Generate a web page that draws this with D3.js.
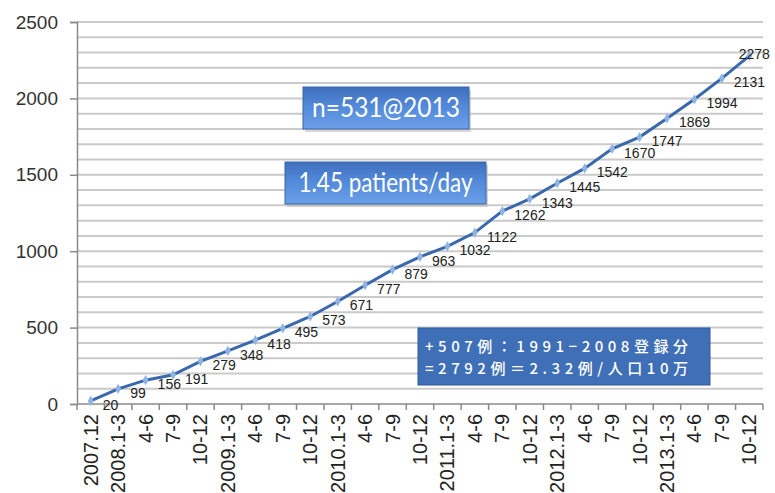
<!DOCTYPE html>
<html>
<head>
<meta charset="utf-8">
<script src="https://cdn.jsdelivr.net/npm/d3@7"></script>
<style>
  body { margin: 0; background: #fff; }
  svg { display: block; }
</style>
</head>
<body>
<svg width="775" height="493"></svg>
<script>
// quarters, cumulative registered cases
const categories = ['2007.12', '2008.1-3', '4-6', '7-9', '10-12', '2009.1-3', '4-6', '7-9', '10-12',
  '2010.1-3', '4-6', '7-9', '10-12', '2011.1-3', '4-6', '7-9', '10-12',
  '2012.1-3', '4-6', '7-9', '10-12', '2013.1-3', '4-6', '7-9', '10-12'];
const cases = [20, 99, 156, 191, 279, 348, 418, 495, 573, 671, 777, 879, 963,
  1032, 1122, 1262, 1343, 1445, 1542, 1670, 1747, 1869, 1994, 2131, 2278];
const yTicks = [0, 500, 1000, 1500, 2000, 2500];
const noteLines = ['+507例：1991−2008登録分', '=2792例＝2.32例/人口10万'];

const svg = d3.select('svg');
const plotLeft = 77, plotRight = 763, plotTop = 22, plotBottom = 404;

const keys = categories.map((c, i) => i);
const x = d3.scaleBand().domain(keys).range([plotLeft, plotRight]);
const y = d3.scaleLinear().domain([0, 2500]).range([plotBottom, plotTop]);

// gridlines every 100
svg.append('g')
  .selectAll('line')
  .data(d3.range(100, 2501, 100))
  .enter()
  .append('line')
  .attr('x1', plotLeft).attr('x2', plotRight)
  .attr('y1', d => y(d)).attr('y2', d => y(d))
  .attr('stroke', '#cacaca')
  .attr('stroke-width', 2);

// y axis
const yAxis = svg.append('g')
  .attr('transform', `translate(${plotLeft},0)`)
  .call(d3.axisLeft(y).tickValues(yTicks).tickFormat(d3.format('d')).tickSize(7).tickPadding(12));
yAxis.select('.domain').attr('stroke', '#8a8a8a').attr('stroke-width', 1.5);
yAxis.selectAll('.tick line').attr('stroke', '#8a8a8a').attr('stroke-width', 1.5);
yAxis.selectAll('text')
  .attr('font-family', 'Arial, "Liberation Sans", sans-serif')
  .attr('font-size', 19)
  .attr('fill', '#333');

// x axis, ticks between categories
const xg = svg.append('g').attr('transform', `translate(0,${plotBottom})`);
xg.append('line')
  .attr('x1', plotLeft).attr('x2', plotRight)
  .attr('stroke', '#8a8a8a').attr('stroke-width', 1.5);
xg.selectAll('.tk')
  .data(d3.range(0, categories.length + 1))
  .enter()
  .append('line')
  .attr('x1', i => plotLeft + i * x.step()).attr('x2', i => plotLeft + i * x.step())
  .attr('y1', 0).attr('y2', 6)
  .attr('stroke', '#8a8a8a').attr('stroke-width', 1.5);
xg.selectAll('text')
  .data(keys)
  .enter()
  .append('text')
  .attr('transform', i => `translate(${x(i) + x.bandwidth() / 2 + 7},10) rotate(-90)`)
  .attr('text-anchor', 'end')
  .attr('font-family', 'Arial, "Liberation Sans", sans-serif')
  .attr('font-size', 20)
  .attr('fill', '#222')
  .text(i => categories[i]);

// line
const cx = i => x(i) + x.bandwidth() / 2;
const line = d3.line().x((d, i) => cx(i)).y(d => y(d));
svg.append('path')
  .datum(cases)
  .attr('d', line)
  .attr('fill', 'none')
  .attr('stroke', '#3a68ac')
  .attr('stroke-width', 3);

svg.append('g')
  .selectAll('path')
  .data(cases)
  .enter()
  .append('path')
  .attr('d', d3.symbol().type(d3.symbolDiamond).size(30))
  .attr('transform', (d, i) => `translate(${cx(i)},${y(d)})`)
  .attr('fill', '#8db4e3');

// data labels
const last = cases.length - 1;
svg.append('g')
  .selectAll('text')
  .data(cases)
  .enter()
  .append('text')
  .attr('x', (d, i) => i === last ? cx(i) + 5 : cx(i) + 12)
  .attr('y', (d, i) => i === last ? y(d) + 3 : y(d) + 9)
  .attr('text-anchor', (d, i) => i === last ? 'middle' : 'start')
  .attr('font-family', 'Arial, "Liberation Sans", sans-serif')
  .attr('font-size', 14)
  .attr('fill', '#222')
  .text(d => d);

// text boxes
const defs = svg.append('defs');
const grad = defs.append('linearGradient').attr('id', 'bx').attr('x1', 0).attr('x2', 0).attr('y1', 0).attr('y2', 1);
grad.append('stop').attr('offset', '0%').attr('stop-color', '#3f6fbd');
grad.append('stop').attr('offset', '45%').attr('stop-color', '#5289d8');
grad.append('stop').attr('offset', '100%').attr('stop-color', '#6b9fe8');

function box(x0, y0, w, h, label, tw) {
  svg.append('rect')
    .attr('x', x0 + 2).attr('y', y0 + 3).attr('width', w).attr('height', h)
    .attr('fill', '#b9b9b9').attr('opacity', 0.6);
  svg.append('rect')
    .attr('x', x0).attr('y', y0).attr('width', w).attr('height', h)
    .attr('fill', 'url(#bx)')
    .attr('stroke', '#3a64a8').attr('stroke-width', 1);
  svg.append('text')
    .attr('x', x0 + w / 2).attr('y', y0 + h / 2 + 9)
    .attr('text-anchor', 'middle')
    .attr('font-family', 'Lato, "Open Sans", sans-serif')
    .attr('font-size', 27)
    .attr('fill', '#fff')
    .attr('textLength', tw)
    .attr('lengthAdjust', 'spacingAndGlyphs')
    .text(label);
}
box(303, 87, 166, 42, 'n=531@2013', 148);
box(285, 162, 201, 42, '1.45 patients/day', 174);

// note box
svg.append('rect')
  .attr('x', 418).attr('y', 328).attr('width', 292).attr('height', 57)
  .attr('fill', '#3f6fb6')
  .attr('stroke', '#2f5a99');
svg.append('g')
  .selectAll('text')
  .data(noteLines)
  .enter()
  .append('text')
  .attr('x', 425)
  .attr('y', (d, i) => 352 + i * 22)
  .attr('font-family', '"Noto Sans CJK JP", sans-serif')
  .attr('font-size', 15)
  .attr('font-weight', 500)
  .attr('fill', '#fff')
  .attr('textLength', 263)
  .attr('lengthAdjust', 'spacing')
  .text(d => d);
</script>
</body>
</html>
